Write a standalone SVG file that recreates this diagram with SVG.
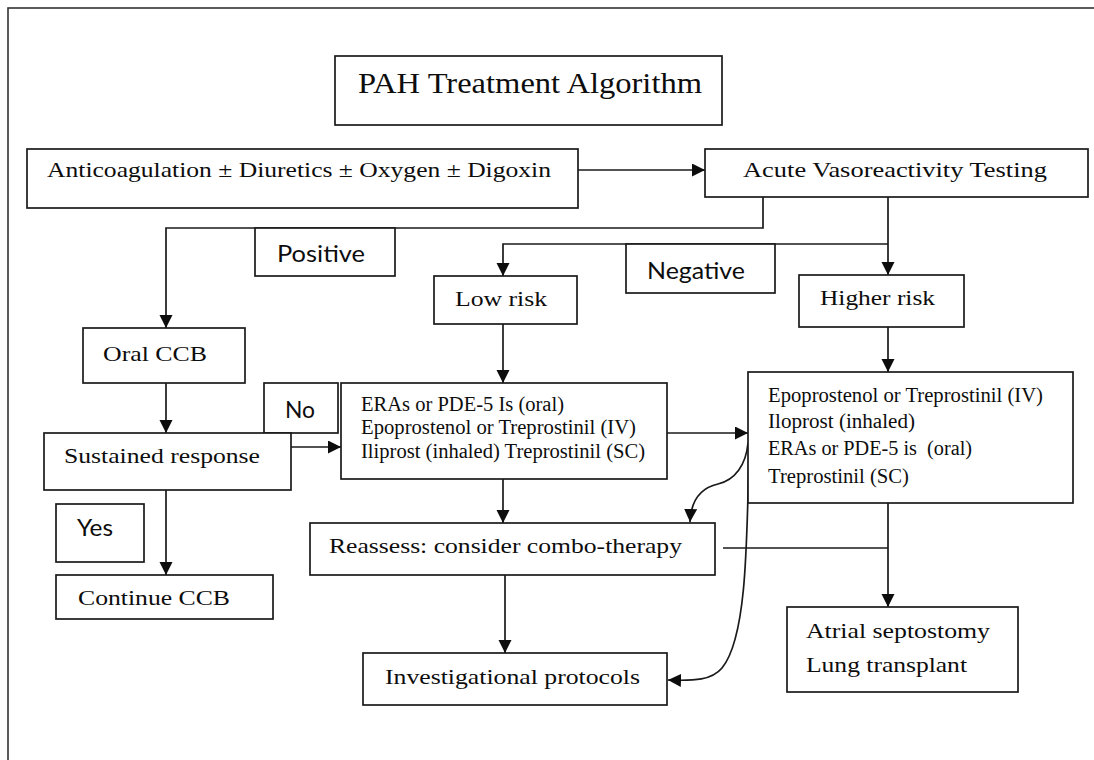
<svg xmlns="http://www.w3.org/2000/svg" width="1094" height="760" viewBox="0 0 1094 760">
  <style>
    .box { fill: #ffffff; stroke: #1a1a1a; stroke-width: 1.7; }
    .t { font-family: "Liberation Serif", "Times New Roman", serif; fill: #0d0d0d; }
    .s { font-family: Lato, "Liberation Sans", sans-serif; fill: #0d0d0d; }
    .ln { fill: none; stroke: #1a1a1a; stroke-width: 1.7; }
  </style>
  <defs>
    <marker id="arrow" markerUnits="userSpaceOnUse" markerWidth="14" markerHeight="14" refX="13" refY="6.5" orient="auto">
      <path d="M0,0 L13,6.5 L0,13 z" fill="#0d0d0d"/>
    </marker>
  </defs>

  <rect width="1094" height="760" fill="#ffffff"/>
  <!-- page frame -->
  <rect x="8" y="8" width="1100" height="800" fill="none" stroke="#333333" stroke-width="1.6"/>

  <!-- connectors -->
  <g id="connectors">
    <path class="ln" d="M578 170 H705" marker-end="url(#arrow)"/>
    <path class="ln" d="M763 197 V228 H166 V328" marker-end="url(#arrow)"/>
    <path class="ln" d="M888 197 V275" marker-end="url(#arrow)"/>
    <path class="ln" d="M888 244 H503 V276" marker-end="url(#arrow)"/>
    <path class="ln" d="M503 324 V383" marker-end="url(#arrow)"/>
    <path class="ln" d="M888 327 V372" marker-end="url(#arrow)"/>
    <path class="ln" d="M166 383 V433" marker-end="url(#arrow)"/>
    <path class="ln" d="M291 447 H341" marker-end="url(#arrow)"/>
    <path class="ln" d="M166 490 V575" marker-end="url(#arrow)"/>
    <path class="ln" d="M667 433 H748" marker-end="url(#arrow)"/>
    <path class="ln" d="M503 479 V523" marker-end="url(#arrow)"/>
    <path class="ln" d="M505 575 V653" marker-end="url(#arrow)"/>
    <path class="ln" d="M723 548 H888"/>
    <path class="ln" d="M888 503 V607" marker-end="url(#arrow)"/>
    <path class="ln" d="M748 443 C746 465 735 480 718 484 C700 488 691 500 690 522" marker-end="url(#arrow)"/>
    <path class="ln" d="M749 450 C747 560 745 640 722 668 C712 680 695 681 668 680" marker-end="url(#arrow)"/>
  </g>

  <g id="title">
    <rect class="box" x="335" y="56" width="387" height="69"/>
    <text class="t" x="358" y="93" font-size="29" textLength="344" lengthAdjust="spacingAndGlyphs">PAH Treatment Algorithm</text>
  </g>

  <g id="supportive">
    <rect class="box" x="27" y="149" width="551" height="59"/>
    <text class="t" x="47" y="177" font-size="22" textLength="504" lengthAdjust="spacingAndGlyphs">Anticoagulation ± Diuretics ± Oxygen ± Digoxin</text>
  </g>

  <g id="vasoreactivity">
    <rect class="box" x="705" y="149" width="383" height="48"/>
    <text class="t" x="743" y="177" font-size="22" textLength="304" lengthAdjust="spacingAndGlyphs">Acute Vasoreactivity Testing</text>
  </g>

  <g id="positive">
    <rect class="box" x="255" y="228" width="140" height="48"/>
    <text class="s" x="277" y="262" font-size="23" textLength="88" lengthAdjust="spacingAndGlyphs">Positive</text>
  </g>

  <g id="negative">
    <rect class="box" x="626" y="244" width="149" height="49"/>
    <text class="s" x="647" y="279" font-size="23" textLength="98" lengthAdjust="spacingAndGlyphs">Negative</text>
  </g>

  <g id="low-risk">
    <rect class="box" x="434" y="276" width="143" height="48"/>
    <text class="t" x="455" y="306" font-size="22" textLength="92" lengthAdjust="spacingAndGlyphs">Low risk</text>
  </g>

  <g id="higher-risk">
    <rect class="box" x="799" y="275" width="165" height="52"/>
    <text class="t" x="820" y="305" font-size="22" textLength="115" lengthAdjust="spacingAndGlyphs">Higher risk</text>
  </g>

  <g id="oral-ccb">
    <rect class="box" x="83" y="328" width="162" height="55"/>
    <text class="t" x="103" y="361" font-size="22" textLength="104" lengthAdjust="spacingAndGlyphs">Oral CCB</text>
  </g>

  <g id="no">
    <rect class="box" x="264" y="383" width="74" height="50"/>
    <text class="s" x="285" y="418" font-size="23" textLength="30" lengthAdjust="spacingAndGlyphs">No</text>
  </g>

  <g id="sustained-response">
    <rect class="box" x="44" y="433" width="247" height="57"/>
    <text class="t" x="64" y="463" font-size="22" textLength="196" lengthAdjust="spacingAndGlyphs">Sustained response</text>
  </g>

  <g id="low-risk-therapy">
    <rect class="box" x="341" y="383" width="326" height="96"/>
    <text class="t" x="361" y="411" font-size="20" textLength="203" lengthAdjust="spacingAndGlyphs">ERAs or PDE-5 Is (oral)</text>
    <text class="t" x="361" y="434" font-size="20" textLength="275" lengthAdjust="spacingAndGlyphs">Epoprostenol or Treprostinil (IV)</text>
    <text class="t" x="361" y="458" font-size="20" textLength="284" lengthAdjust="spacingAndGlyphs">Iliprost (inhaled) Treprostinil (SC)</text>
  </g>

  <g id="higher-risk-therapy">
    <rect class="box" x="748" y="372" width="325" height="131"/>
    <text class="t" x="768" y="402" font-size="20" textLength="275" lengthAdjust="spacingAndGlyphs">Epoprostenol or Treprostinil (IV)</text>
    <text class="t" x="768" y="428" font-size="20" textLength="147" lengthAdjust="spacingAndGlyphs">Iloprost (inhaled)</text>
    <text class="t" x="768" y="455" font-size="20" textLength="204" lengthAdjust="spacingAndGlyphs" xml:space="preserve">ERAs or PDE-5 is  (oral)</text>
    <text class="t" x="768" y="483" font-size="20" textLength="141" lengthAdjust="spacingAndGlyphs">Treprostinil (SC)</text>
  </g>

  <g id="yes">
    <rect class="box" x="56" y="504" width="88" height="58"/>
    <text class="s" x="77" y="536" font-size="23" textLength="36" lengthAdjust="spacingAndGlyphs">Yes</text>
  </g>

  <g id="reassess">
    <rect class="box" x="310" y="523" width="405" height="52"/>
    <text class="t" x="329" y="553" font-size="22" textLength="353" lengthAdjust="spacingAndGlyphs">Reassess: consider combo-therapy</text>
  </g>

  <g id="continue-ccb">
    <rect class="box" x="56" y="575" width="217" height="44"/>
    <text class="t" x="78" y="605" font-size="22" textLength="152" lengthAdjust="spacingAndGlyphs">Continue CCB</text>
  </g>

  <g id="surgical">
    <rect class="box" x="787" y="607" width="231" height="85"/>
    <text class="t" x="806" y="638" font-size="22" textLength="184" lengthAdjust="spacingAndGlyphs">Atrial septostomy</text>
    <text class="t" x="806" y="672" font-size="22" textLength="161" lengthAdjust="spacingAndGlyphs">Lung transplant</text>
  </g>

  <g id="investigational">
    <rect class="box" x="363" y="653" width="304" height="52"/>
    <text class="t" x="385" y="684" font-size="22" textLength="255" lengthAdjust="spacingAndGlyphs">Investigational protocols</text>
  </g>
</svg>
